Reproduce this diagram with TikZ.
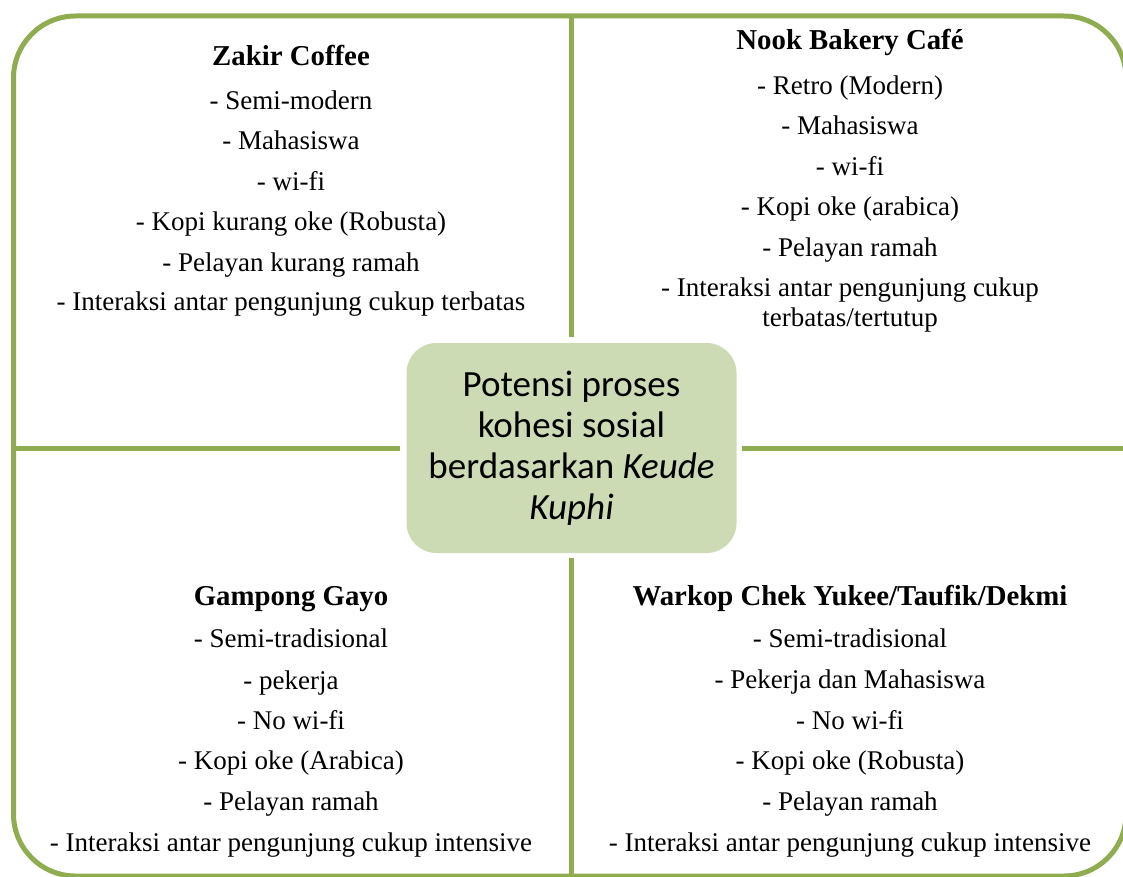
\documentclass[tikz,border=0pt]{standalone}
\usepackage{fontspec}
\setmainfont{Liberation Serif}
\newfontfamily\calib{Carlito}
\definecolor{frameGreen}{RGB}{143,172,80}
\definecolor{boxGreen}{RGB}{205,219,181}
\begin{document}
\begin{tikzpicture}[x=1pt,y=-1pt,
  frame/.style={line width=5pt, draw=frameGreen},
  body/.style={anchor=base, inner sep=0pt, font=\fontsize{27}{32}\selectfont},
  head/.style={anchor=base, inner sep=0pt, font=\fontsize{28.8}{34}\selectfont\bfseries},
]
\useasboundingbox (0,0) rectangle (1123,877);
\clip (0,0) rectangle (1123,877);
\draw[frame, rounded corners=62pt] (13.5,16) rectangle (1126,876);

\node[fill=boxGreen, rounded corners=30pt, minimum width=330pt, minimum height=210pt,
      inner sep=0pt, align=center, font=\calib\fontsize{37}{41}\selectfont]
  (hub) at (571.5,448) {\raisebox{-3pt}{\parbox{320pt}{\centering Potensi proses\\kohesi sosial\\berdasarkan \textit{Keude}\\\textit{Kuphi}}}};

\coordinate (ntop) at (571.5,16);
\coordinate (nbot) at (571.5,876);
\coordinate (wleft) at (13.5,448);
\coordinate (eright) at (1126,448);
\draw[frame] (ntop) -- ([yshift=6pt]hub.north);
\draw[frame] ([yshift=-5pt]hub.south) -- (nbot);
\draw[frame] (wleft) -- ([xshift=-6pt]hub.west);
\draw[frame] ([xshift=5pt]hub.east) -- (eright);

% Zakir Coffee
\node[head] (z0) at (291,66) {Zakir Coffee};
\node[body] (z1) at (291,110) {- Semi-modern};
\node[body] (z2) at (291,150) {- Mahasiswa};
\node[body] (z3) at (291,191) {- wi-fi};
\node[body] (z4) at (291,231) {- Kopi kurang oke (Robusta)};
\node[body] (z5) at (291,271) {- Pelayan kurang ramah};
\node[body] (z6) at (291,310) {- Interaksi antar pengunjung cukup terbatas};

% Nook Bakery Cafe
\node[head] (n0) at (850,50) {Nook Bakery Café};
\node[body] (n1) at (850,95) {- Retro (Modern)};
\node[body] (n2) at (850,135) {- Mahasiswa};
\node[body] (n3) at (850,176) {- wi-fi};
\node[body] (n4) at (850,216) {- Kopi oke (arabica)};
\node[body] (n5) at (850,256) {- Pelayan ramah};
\node[body] (n6) at (850,296) {- Interaksi antar pengunjung cukup};
\node[body] (n7) at (850,326) {terbatas/tertutup};

% Gampong Gayo
\node[head] (g0) at (291,605) {Gampong Gayo};
\node[body] (g1) at (291,647) {- Semi-tradisional};
\node[body] (g2) at (291,689) {- pekerja};
\node[body] (g3) at (291,729) {- No wi-fi};
\node[body] (g4) at (291,769) {- Kopi oke (Arabica)};
\node[body] (g5) at (291,810) {- Pelayan ramah};
\node[body] (g6) at (291,851) {- Interaksi antar pengunjung cukup intensive};

% Warkop
\node[head] (w0) at (850,605) {Warkop Chek Yukee/Taufik/Dekmi};
\node[body] (w1) at (850,647) {- Semi-tradisional};
\node[body] (w2) at (850,688) {- Pekerja dan Mahasiswa};
\node[body] (w3) at (850,729) {- No wi-fi};
\node[body] (w4) at (850,769) {- Kopi oke (Robusta)};
\node[body] (w5) at (850,810) {- Pelayan ramah};
\node[body] (w6) at (850,851) {- Interaksi antar pengunjung cukup intensive};
\end{tikzpicture}
\end{document}
